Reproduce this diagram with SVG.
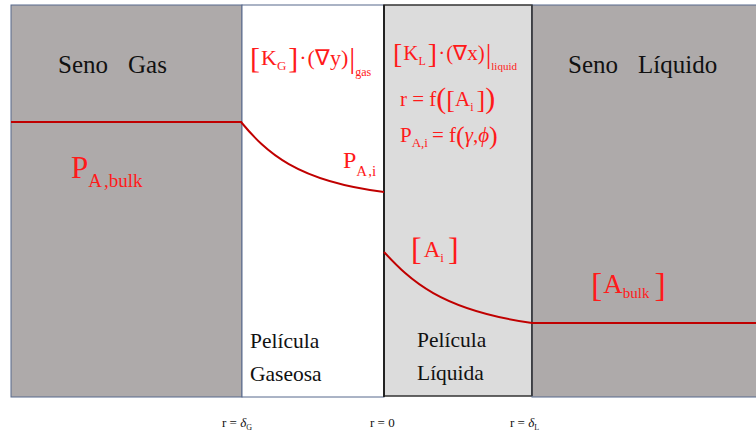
<svg xmlns="http://www.w3.org/2000/svg" width="756" height="433" viewBox="0 0 756 433" font-family="'Liberation Serif','Times New Roman',serif">
<style>
text{font-family:"Liberation Serif","Times New Roman",serif}
.blk{fill:#111}
.red{fill:#FF1A1A}
.bulk{fill:#AEAAAA}
.prof{fill:none;stroke:#C00000;stroke-width:2}
.it{font-style:italic}
</style>
<rect width="756" height="433" fill="#fff"/>
<g id="seno-gas">
<rect class="bulk" x="11" y="5" width="231" height="392" stroke="#56688C" stroke-width="1"/>
<text class="blk" x="58" y="73" font-size="25">Seno<tspan dx="20">Gas</tspan></text>
<text class="red" x="71" y="178" font-size="31">P<tspan font-size="19" dy="9">A<tspan dx="2">,</tspan>bulk</tspan></text>
</g>
<g id="pelicula-gaseosa">
<rect x="242" y="5" width="142" height="392" fill="#fff" stroke="#56688C" stroke-width="1"/>
<text class="red" x="250" y="65" font-size="22"><tspan font-size="30" dy="3">[</tspan><tspan dy="-3" dx="1">K</tspan><tspan font-size="13" dy="5">G</tspan><tspan font-size="30" dy="-2" dx="2">]</tspan><tspan dy="-3" dx="1">·</tspan><tspan dx="1">(∇y)</tspan><tspan font-size="30" dy="3" dx="1">|</tspan><tspan font-size="12" dy="8">gas</tspan></text>
<text class="red" x="343" y="168" font-size="24">P<tspan font-size="15" dy="8">A<tspan dx="1">,</tspan>i</tspan></text>
<text class="blk" x="250" y="348" font-size="21.5">Película</text>
<text class="blk" x="250" y="381" font-size="21.5">Gaseosa</text>
</g>
<g id="pelicula-liquida">
<rect x="384" y="5" width="148" height="391" fill="#DCDCDC" stroke="#333" stroke-width="1.5"/>
<line x1="384" y1="5" x2="384" y2="397" stroke="#222" stroke-width="2"/>
<text class="red" x="393" y="60" font-size="21"><tspan font-size="28" dy="3">[</tspan><tspan dy="-3" dx="1">K</tspan><tspan font-size="12" dy="5">L</tspan><tspan font-size="28" dy="-2" dx="2">]</tspan><tspan dy="-3" dx="1">·</tspan><tspan dx="1">(∇x)</tspan><tspan font-size="28" dy="3" dx="1">|</tspan><tspan font-size="11" dy="7">liquid</tspan></text>
<text class="red" x="400" y="106" font-size="21">r = f<tspan font-size="30" dy="2">(</tspan><tspan font-size="26" dy="0">[</tspan><tspan dy="-2">A</tspan><tspan font-size="12" dy="5">i</tspan><tspan font-size="26" dy="-3" dx="3">]</tspan><tspan font-size="30">)</tspan></text>
<text class="red" x="400" y="142" font-size="21">P<tspan font-size="13" dy="5">A,i</tspan><tspan dy="-5" dx="4">= f</tspan><tspan font-size="26" dy="2">(</tspan><tspan class="it" dy="-2">γ</tspan>,<tspan class="it">ϕ</tspan><tspan font-size="26" dy="2">)</tspan></text>
<text class="red" x="411" y="257" font-size="23"><tspan font-size="32" dy="3">[</tspan><tspan dy="-3" dx="2">A</tspan><tspan font-size="13" dy="5">i</tspan><tspan font-size="32" dy="-2" dx="4">]</tspan></text>
<text class="blk" x="417" y="347" font-size="21.5">Película</text>
<text class="blk" x="417" y="380" font-size="21.5">Líquida</text>
</g>
<g id="seno-liquido">
<rect class="bulk" x="532" y="5" width="230" height="392" stroke="#56688C" stroke-width="1"/>
<line x1="532" y1="5" x2="532" y2="396" stroke="#333" stroke-width="1.5"/>
<text class="blk" x="568" y="73" font-size="25">Seno<tspan dx="20">Líquido</tspan></text>
<text class="red" x="591" y="293" font-size="27"><tspan font-size="34" dy="3">[</tspan><tspan dy="-3" dx="1">A</tspan><tspan font-size="15" dy="5">bulk</tspan><tspan font-size="34" dy="-2" dx="5">]</tspan></text>
</g>
<g id="connectors">
<line class="prof" x1="11" y1="122" x2="242" y2="122"/>
<path class="prof" d="M241,122 C266,152 296,181 384,192"/>
<path class="prof" d="M384,252 C410,280 440,310 532,323"/>
<line class="prof" x1="532" y1="323" x2="756" y2="323"/>
</g>
<g id="axis-labels" font-size="13">
<text class="blk" x="222" y="427">r = <tspan class="it">δ</tspan><tspan font-size="8" dy="3">G</tspan></text>
<text class="blk" x="370" y="427">r = 0</text>
<text class="blk" x="510" y="427">r = <tspan class="it">δ</tspan><tspan font-size="8" dy="3">L</tspan></text>
</g>
</svg>
